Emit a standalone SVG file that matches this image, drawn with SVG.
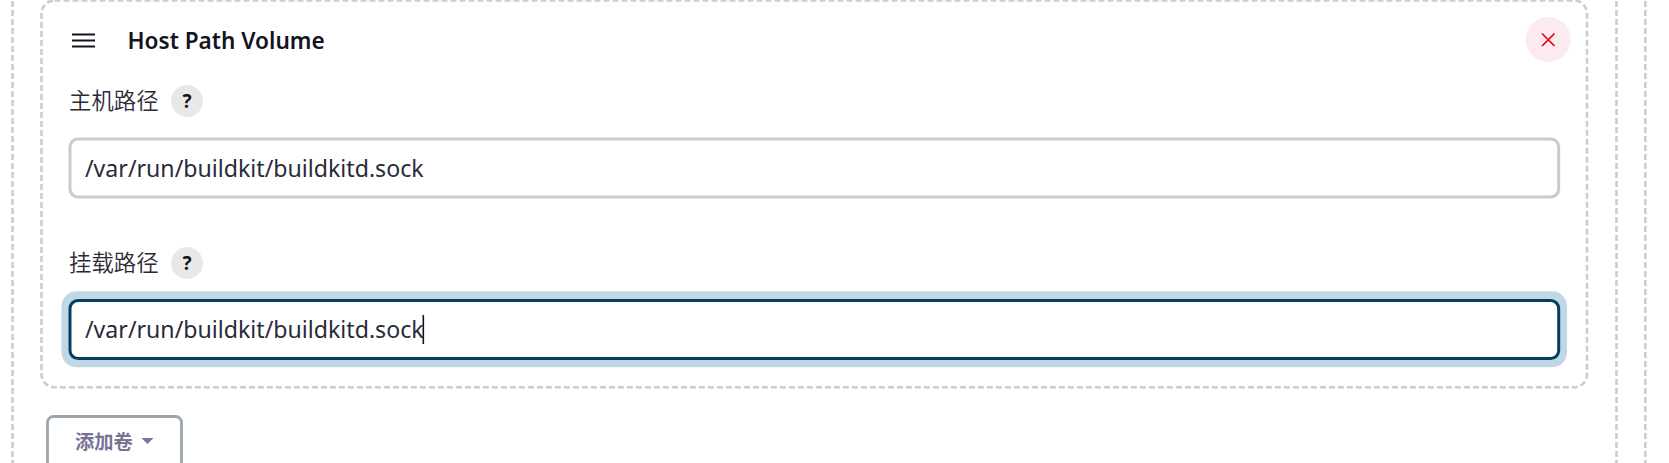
<svg xmlns="http://www.w3.org/2000/svg" width="1669" height="463" viewBox="0 0 1669 463">
<style>
text{font-family:"Noto Sans","Noto Sans CJK SC",sans-serif}
.dash{fill:none;stroke:#c5cfd4;stroke-width:2.6;stroke-dasharray:6 3}
.lbl{font-size:22.4px;fill:#2b2b38;font-family:"Noto Sans CJK SC","Noto Sans",sans-serif;font-weight:350}
.val{font-size:23.15px;fill:#2a2a3a}
.help{fill:#e8e8e8}
.q{font-size:19px;font-weight:700;fill:#14141f;text-anchor:middle}
</style>
<rect width="1669" height="463" fill="#fff"/>
<g id="outer-borders">
<line class="dash" x1="12.5" y1="1" x2="12.5" y2="463"/>
<line class="dash" x1="1616.5" y1="1" x2="1616.5" y2="463"/>
<line class="dash" x1="1645.3" y1="1" x2="1645.3" y2="463"/>
</g>
<g id="card">
<rect class="dash" x="41.5" y="0.5" width="1545.5" height="386.8" rx="13"/>
</g>
<g id="header">
<path d="M72 34.5H95M72 40.5H95M72 46.5H95" stroke="#14141f" stroke-width="2" fill="none"/>
<text x="127.5" y="49" font-size="22.6" font-weight="600" fill="#14141f">Host Path Volume</text>
</g>
<g id="close">
<circle cx="1548.3" cy="39.5" r="22.5" fill="#fbebee"/>
<path d="M1542 33.5L1554.5 46M1554.5 33.5L1542 46" stroke="#e6001f" stroke-width="1.7" fill="none"/>
</g>
<g id="host-path">
<text class="lbl" x="69" y="109">主机路径</text>
<circle class="help" cx="187" cy="101" r="16"/>
<text class="q" x="187" y="108">?</text>
<rect x="70" y="139" width="1488.7" height="58" rx="8" fill="#fff" stroke="#c3ccd1" stroke-width="3"/>
<text class="val" x="85" y="176.5">/var/run/buildkit/buildkitd.sock</text>
</g>
<g id="mount-path">
<text class="lbl" x="69" y="271">挂载路径</text>
<circle class="help" cx="187" cy="263" r="16"/>
<text class="q" x="187" y="270">?</text>
<rect x="61.5" y="291.3" width="1505.5" height="76" rx="15" fill="#c0d8e6"/>
<rect x="70" y="300.5" width="1488.7" height="58" rx="8" fill="#fff" stroke="#024060" stroke-width="3"/>
<text class="val" x="85" y="338">/var/run/buildkit/buildkitd.sock</text>
<line x1="423.3" y1="315" x2="423.3" y2="344" stroke="#14141f" stroke-width="1.6"/>
</g>
<g id="add-volume">
<rect x="47.5" y="416.5" width="134" height="60" rx="6" fill="#fff" stroke="#9aa7b0" stroke-width="2.8"/>
<text x="75" y="449" font-size="19.3" font-weight="700" fill="#777395" font-family="Noto Sans CJK SC,sans-serif">添加卷</text>
<path d="M141.5 438H153.5L147.5 444Z" fill="#777395"/>
</g>
</svg>
